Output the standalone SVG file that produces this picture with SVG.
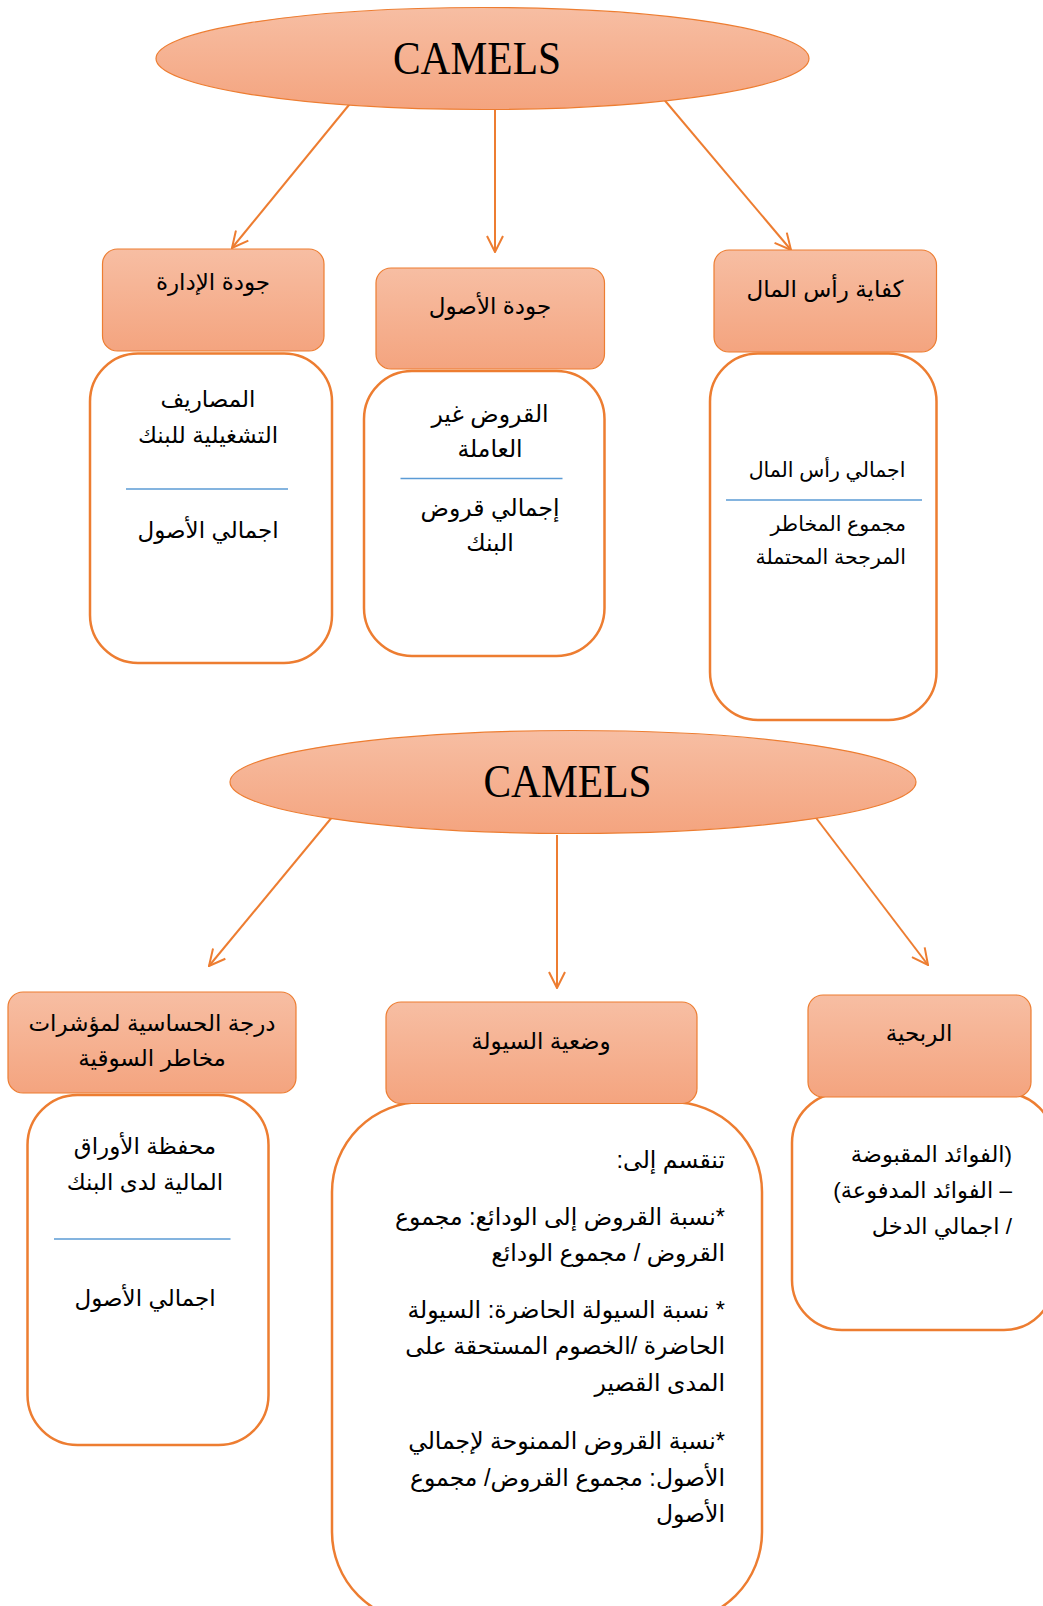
<svg xmlns="http://www.w3.org/2000/svg" width="1043" height="1606" viewBox="0 0 1043 1606">
<defs>
<linearGradient id="g" x1="0" y1="0" x2="0" y2="1">
<stop offset="0" stop-color="#F7BEA3"/>
<stop offset="1" stop-color="#F4A47F"/>
</linearGradient>
<marker id="ah" viewBox="0 0 18 18" refX="17" refY="9" markerWidth="18" markerHeight="18" markerUnits="userSpaceOnUse" orient="auto">
<path d="M1,1 L17,9 L1,17" fill="none" stroke="#ED7D31" stroke-width="2"/>
</marker>
<style>
.hd{fill:url(#g);stroke:#ED7D31;stroke-width:1.2}
.bx{fill:#FFFFFF;stroke:#ED7D31;stroke-width:2.5}
.dv{stroke:#5B9BD5;stroke-width:1.5}
.cn{stroke:#ED7D31;stroke-width:2;fill:none}
.t{font-family:"Liberation Sans","DejaVu Sans",sans-serif;font-size:23px;fill:#000}
.h{font-size:23px}
.s{font-size:20.5px}
.m{font-size:23.5px}
.p{font-size:22.5px}
.c{text-anchor:middle}
.r{direction:rtl;text-anchor:start}
.cm{font-family:"Liberation Serif","DejaVu Serif",serif;font-size:46px;fill:#000;text-anchor:middle}
</style>
</defs>
<rect width="1043" height="1606" fill="#FFFFFF"/>

<g id="connectors">
<line class="cn" x1="353" y1="100" x2="232" y2="248" marker-end="url(#ah)"/>
<line class="cn" x1="495" y1="100" x2="495" y2="252" marker-end="url(#ah)"/>
<line class="cn" x1="656" y1="90" x2="791" y2="250" marker-end="url(#ah)"/>
<line class="cn" x1="333" y1="816" x2="209" y2="966" marker-end="url(#ah)"/>
<line class="cn" x1="557" y1="835" x2="557" y2="988" marker-end="url(#ah)"/>
<line class="cn" x1="807" y1="806" x2="928" y2="965" marker-end="url(#ah)"/>
</g>

<g id="camels-top">
<ellipse class="hd" cx="482.5" cy="58.5" rx="326.5" ry="51"/>
<text class="cm" x="477" y="74" textLength="168" lengthAdjust="spacingAndGlyphs">CAMELS</text>
</g>

<g id="management-content">
<rect class="bx" x="90" y="353.5" width="242" height="309.5" rx="48"/>
<text class="t c" x="208" y="407">المصاريف</text>
<text class="t c" x="208" y="443">التشغيلية للبنك</text>
<line class="dv" x1="126" y1="489" x2="288" y2="489"/>
<text class="t c" x="208" y="538">اجمالي الأصول</text>
</g>
<g id="management">
<rect class="hd" x="102.5" y="249" width="221.5" height="102" rx="15"/>
<text class="t h c" x="213" y="290">جودة الإدارة</text>
</g>

<g id="assets-content">
<rect class="bx" x="364" y="371" width="240.5" height="285" rx="48"/>
<text class="t m c" x="490" y="422">القروض غير</text>
<text class="t m c" x="490" y="457">العاملة</text>
<line class="dv" x1="400.5" y1="478.5" x2="562.5" y2="478.5"/>
<text class="t m c" x="490" y="516">إجمالي قروض</text>
<text class="t m c" x="490" y="551">البنك</text>
</g>
<g id="assets">
<rect class="hd" x="376" y="268" width="228.5" height="101" rx="15"/>
<text class="t h c" x="490" y="314">جودة الأصول</text>
</g>

<g id="capital-content">
<rect class="bx" x="710" y="353.5" width="226.5" height="366.5" rx="48"/>
<text class="t s c" x="827" y="477">اجمالي رأس المال</text>
<line class="dv" x1="726" y1="500" x2="922" y2="500"/>
<text class="t s r" x="906" y="531">مجموع المخاطر</text>
<text class="t s r" x="906" y="564">المرجحة المحتملة</text>
</g>
<g id="capital">
<rect class="hd" x="714" y="250" width="222.5" height="102" rx="15"/>
<text class="t h c" x="825" y="297">كفاية رأس المال</text>
</g>

<g id="camels-bottom">
<ellipse class="hd" cx="573" cy="782" rx="343" ry="51.5"/>
<text class="cm" x="567.5" y="797" textLength="168" lengthAdjust="spacingAndGlyphs">CAMELS</text>
</g>

<g id="sensitivity-content">
<rect class="bx" x="27.5" y="1095" width="241" height="350" rx="50"/>
<text class="t c" x="145" y="1154">محفظة الأوراق</text>
<text class="t c" x="145" y="1190">المالية لدى البنك</text>
<line class="dv" x1="54" y1="1239" x2="230.5" y2="1239"/>
<text class="t c" x="145" y="1306">اجمالي الأصول</text>
</g>
<g id="sensitivity">
<rect class="hd" x="8" y="992" width="288" height="101" rx="15"/>
<text class="t h c" x="152" y="1031">درجة الحساسية لمؤشرات</text>
<text class="t h c" x="152" y="1066">مخاطر السوقية</text>
</g>

<g id="liquidity-content">
<rect class="bx" x="332" y="1102" width="430" height="520" rx="90"/>
<text class="t m r" x="725" y="1168">تنقسم إلى:</text>
<text class="t m r" x="725" y="1225">*نسبة القروض إلى الودائع: مجموع</text>
<text class="t m r" x="725" y="1261">القروض / مجموع الودائع</text>
<text class="t m r" x="725" y="1318">* نسبة السيولة الحاضرة: السيولة</text>
<text class="t m r" x="725" y="1354">الحاضرة /الخصوم المستحقة على</text>
<text class="t m r" x="725" y="1391">المدى القصير</text>
<text class="t m r" x="725" y="1449">*نسبة القروض الممنوحة لإجمالي</text>
<text class="t m r" x="725" y="1486">الأصول: مجموع القروض/ مجموع</text>
<text class="t m r" x="725" y="1522">الأصول</text>
</g>
<g id="liquidity">
<rect class="hd" x="386" y="1002" width="311" height="101.5" rx="15"/>
<text class="t h c" x="541" y="1049">وضعية السيولة</text>
</g>

<g id="profitability-content">
<rect class="bx" x="792" y="1093" width="262" height="237" rx="50"/>
<text class="t p r" x="1012" y="1162">(الفوائد المقبوضة</text>
<text class="t p r" x="1012" y="1198">– الفوائد المدفوعة)</text>
<text class="t p r" x="1012" y="1234">/ اجمالي الدخل</text>
</g>
<g id="profitability">
<rect class="hd" x="808" y="995" width="223" height="102" rx="15"/>
<text class="t h c" x="919" y="1041">الربحية</text>
</g>
</svg>
